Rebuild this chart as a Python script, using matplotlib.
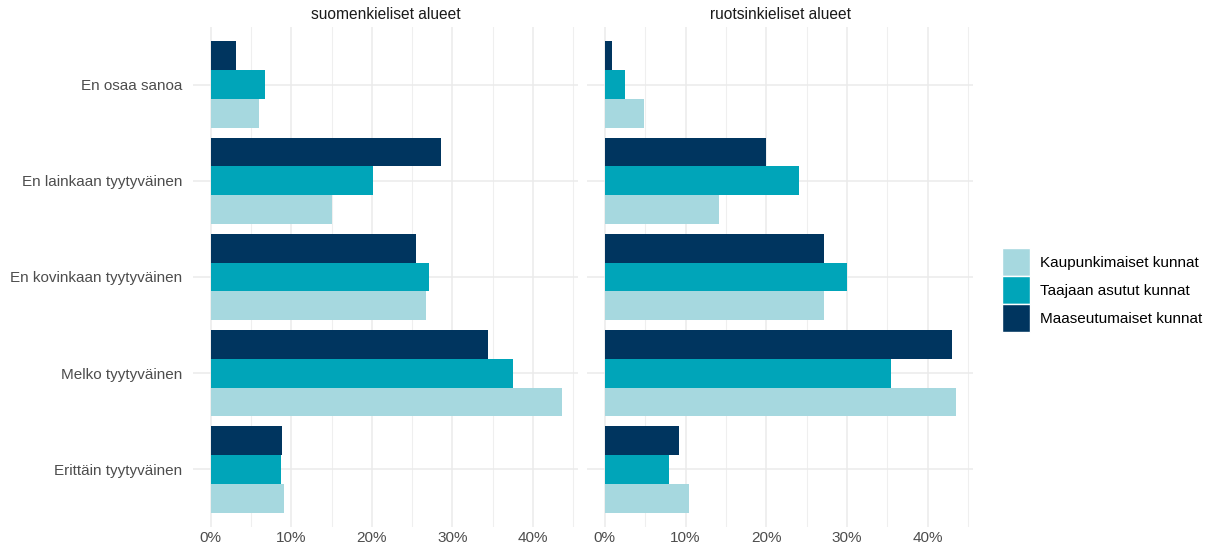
import matplotlib
matplotlib.use("Agg")
import matplotlib.pyplot as plt
from matplotlib.patches import Patch
import numpy as np

plt.rcParams['font.family'] = ['Liberation Sans', 'DejaVu Sans']

categories = ["Erittäin tyytyväinen", "Melko tyytyväinen", "En kovinkaan tyytyväinen",
              "En lainkaan tyytyväinen", "En osaa sanoa"]
groups = ["Kaupunkimaiset kunnat", "Taajaan asutut kunnat", "Maaseutumaiset kunnat"]
colors = ["#A6D8DF", "#00A5B9", "#00355F"]
panels = ["suomenkieliset alueet", "ruotsinkieliset alueet"]

# values in %, order follows categories (bottom -> top)
fi_kaupunki = [9.1, 43.6, 26.7, 15.0, 6.0]
fi_taajaan = [8.7, 37.5, 27.1, 20.1, 6.8]
fi_maaseutu = [8.8, 34.4, 25.5, 28.6, 3.1]
sv_kaupunki = [10.4, 43.5, 27.1, 14.2, 4.8]
sv_taajaan = [8.0, 35.5, 30.0, 24.1, 2.5]
sv_maaseutu = [9.2, 43.0, 27.1, 20.0, 0.9]

data = [[fi_kaupunki, fi_taajaan, fi_maaseutu],
        [sv_kaupunki, sv_taajaan, sv_maaseutu]]

W, H = 1217, 554
fig = plt.figure(figsize=(W / 100, H / 100), dpi=100)
axes = [fig.add_axes([193 / W, 27 / H, 385 / W, 500 / H]),
        fig.add_axes([587 / W, 27 / H, 386 / W, 500 / H])]

y = np.arange(1, len(categories) + 1)
bh = 0.3
for k, ax in enumerate(axes):
    for i, vals in enumerate(data[k]):
        ax.barh(y + (i - 1) * bh, vals, height=bh, color=colors[i], zorder=3)
    ax.set_xlim(-2.2, 45.6)
    ax.set_ylim(0.4, 5.6)
    ax.set_xticks([0, 10, 20, 30, 40])
    ax.set_xticklabels([f"{t}%" for t in [0, 10, 20, 30, 40]])
    ax.set_xticks([5, 15, 25, 35, 45], minor=True)
    ax.set_yticks(y)
    if k == 0:
        ax.set_yticklabels(categories)
    else:
        ax.set_yticklabels([])
    ax.grid(True, which='major', color='#EBEBEB', lw=1.1, zorder=0)
    ax.grid(True, which='minor', axis='x', color='#EFEFEF', lw=0.8, zorder=0)
    ax.tick_params(which='both', length=0, labelsize=11, colors='#4D4D4D', pad=3)
    ax.tick_params(axis='y', pad=7.5)
    for s in ax.spines.values():
        s.set_visible(False)
    ax.set_title(panels[k], fontsize=11.2, color='#1A1A1A', pad=6)

handles = [Patch(facecolor=c, edgecolor='white', linewidth=1.0) for c in colors]
fig.legend(handles, groups, loc='center left', bbox_to_anchor=(1002 / W, 1 - 290 / H),
           frameon=False, fontsize=11, handlelength=1.85, handleheight=2.45,
           handletextpad=0.65, labelspacing=0.0, borderpad=0, borderaxespad=0)

fig.savefig("out.png", dpi=100)
